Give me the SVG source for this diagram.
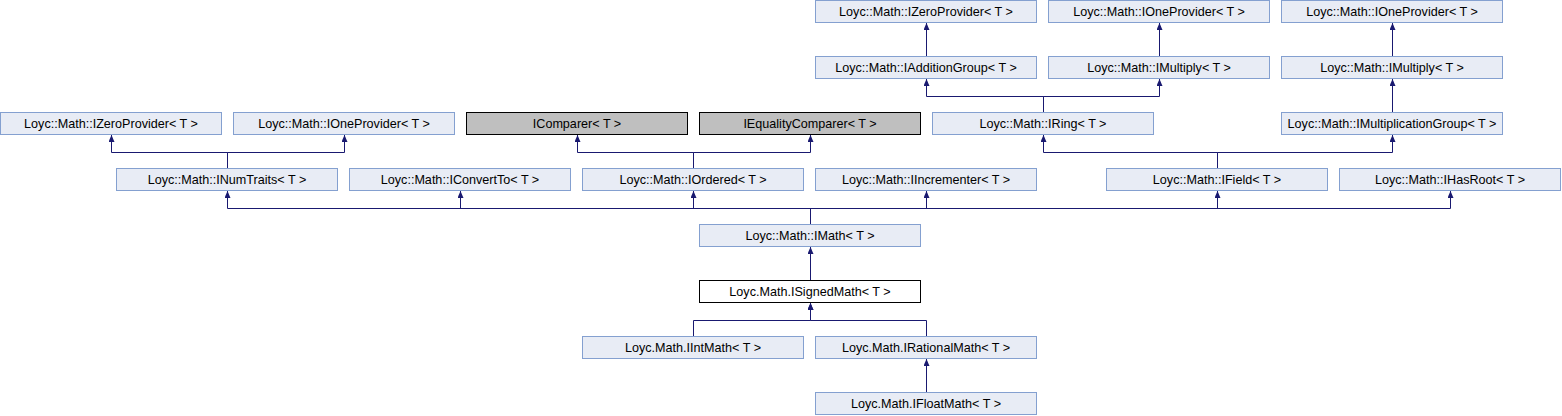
<svg xmlns="http://www.w3.org/2000/svg" width="1562" height="416" viewBox="0 0 1562 416">
<style>
.b rect{fill:#e8ecf5;stroke:#84a0d0;stroke-width:1}
.g rect{fill:#bfbfbf;stroke:#000;stroke-width:1}
.w rect{fill:#fff;stroke:#000;stroke-width:1}
text{font-family:"Liberation Sans",Arial,sans-serif;font-size:12.6px;text-anchor:middle;fill:#000}
.e path{fill:none;stroke:#191970;stroke-width:1;marker-end:url(#ah)}
</style>
<defs>
<marker id="ah" viewBox="0 0 10 10" refX="10" refY="5" markerUnits="userSpaceOnUse" markerWidth="7" markerHeight="6" orient="auto" preserveAspectRatio="none">
<path d="M0,0 L10,5 L0,10 z" fill="#191970"/>
</marker>
</defs>
<rect width="1562" height="416" fill="#fff"/>
<g class="e" id="connectors">
<path d="M926.5,56 V23"/>
<path d="M1159.5,56 V23"/>
<path d="M1392.5,56 V23"/>
<path d="M1043.5,112 V96.5 H926.5 V79"/>
<path d="M1043.5,112 V96.5 H1159.5 V79"/>
<path d="M1392.5,112 V79"/>
<path d="M227.5,168 V152.5 H111.5 V135"/>
<path d="M227.5,168 V152.5 H344.5 V135"/>
<path d="M693.5,168 V152.5 H577.5 V135"/>
<path d="M693.5,168 V152.5 H810.5 V135"/>
<path d="M1217.5,168 V152.5 H1043.5 V135"/>
<path d="M1217.5,168 V152.5 H1392.5 V135"/>
<path d="M810.5,224 V208.5 H227.5 V191"/>
<path d="M810.5,224 V208.5 H460.5 V191"/>
<path d="M810.5,224 V208.5 H693.5 V191"/>
<path d="M810.5,224 V208.5 H926.5 V191"/>
<path d="M810.5,224 V208.5 H1217.5 V191"/>
<path d="M810.5,224 V208.5 H1450.5 V191"/>
<path d="M810.5,280 V247"/>
<path d="M693.5,336 V320.5 H810.5 V303"/>
<path d="M926.5,336 V320.5 H810.5 V303"/>
<path d="M926.5,392 V359"/>
</g>
<g id="n_IZeroProvider_top" class="b"><rect x="815.5" y="0.5" width="221" height="22"/><text x="926" y="16">Loyc::Math::IZeroProvider&lt; T &gt;</text></g>
<g id="n_IOneProvider_top1" class="b"><rect x="1048.5" y="0.5" width="221" height="22"/><text x="1159" y="16">Loyc::Math::IOneProvider&lt; T &gt;</text></g>
<g id="n_IOneProvider_top2" class="b"><rect x="1281.5" y="0.5" width="221" height="22"/><text x="1392" y="16">Loyc::Math::IOneProvider&lt; T &gt;</text></g>
<g id="n_IAdditionGroup" class="b"><rect x="815.5" y="56.5" width="221" height="22"/><text x="926" y="72">Loyc::Math::IAdditionGroup&lt; T &gt;</text></g>
<g id="n_IMultiply1" class="b"><rect x="1048.5" y="56.5" width="221" height="22"/><text x="1159" y="72">Loyc::Math::IMultiply&lt; T &gt;</text></g>
<g id="n_IMultiply2" class="b"><rect x="1281.5" y="56.5" width="221" height="22"/><text x="1392" y="72">Loyc::Math::IMultiply&lt; T &gt;</text></g>
<g id="n_IZeroProvider" class="b"><rect x="0.5" y="112.5" width="221" height="22"/><text x="111" y="128">Loyc::Math::IZeroProvider&lt; T &gt;</text></g>
<g id="n_IOneProvider" class="b"><rect x="233.5" y="112.5" width="221" height="22"/><text x="344" y="128">Loyc::Math::IOneProvider&lt; T &gt;</text></g>
<g id="n_IComparer" class="g"><rect x="466.5" y="112.5" width="221" height="22"/><text x="577" y="128">IComparer&lt; T &gt;</text></g>
<g id="n_IEqualityComparer" class="g"><rect x="699.5" y="112.5" width="221" height="22"/><text x="810" y="128">IEqualityComparer&lt; T &gt;</text></g>
<g id="n_IRing" class="b"><rect x="932.5" y="112.5" width="221" height="22"/><text x="1043" y="128">Loyc::Math::IRing&lt; T &gt;</text></g>
<g id="n_IMultiplicationGroup" class="b"><rect x="1281.5" y="112.5" width="221" height="22"/><text x="1392" y="128">Loyc::Math::IMultiplicationGroup&lt; T &gt;</text></g>
<g id="n_INumTraits" class="b"><rect x="116.5" y="168.5" width="221" height="22"/><text x="227" y="184">Loyc::Math::INumTraits&lt; T &gt;</text></g>
<g id="n_IConvertTo" class="b"><rect x="349.5" y="168.5" width="221" height="22"/><text x="460" y="184">Loyc::Math::IConvertTo&lt; T &gt;</text></g>
<g id="n_IOrdered" class="b"><rect x="582.5" y="168.5" width="221" height="22"/><text x="693" y="184">Loyc::Math::IOrdered&lt; T &gt;</text></g>
<g id="n_IIncrementer" class="b"><rect x="815.5" y="168.5" width="221" height="22"/><text x="926" y="184">Loyc::Math::IIncrementer&lt; T &gt;</text></g>
<g id="n_IField" class="b"><rect x="1106.5" y="168.5" width="221" height="22"/><text x="1217" y="184">Loyc::Math::IField&lt; T &gt;</text></g>
<g id="n_IHasRoot" class="b"><rect x="1339.5" y="168.5" width="221" height="22"/><text x="1450" y="184">Loyc::Math::IHasRoot&lt; T &gt;</text></g>
<g id="n_IMath" class="b"><rect x="699.5" y="224.5" width="221" height="22"/><text x="810" y="240">Loyc::Math::IMath&lt; T &gt;</text></g>
<g id="n_ISignedMath" class="w"><rect x="699.5" y="280.5" width="221" height="22"/><text x="810" y="296">Loyc.Math.ISignedMath&lt; T &gt;</text></g>
<g id="n_IIntMath" class="b"><rect x="582.5" y="336.5" width="221" height="22"/><text x="693" y="352">Loyc.Math.IIntMath&lt; T &gt;</text></g>
<g id="n_IRationalMath" class="b"><rect x="815.5" y="336.5" width="221" height="22"/><text x="926" y="352">Loyc.Math.IRationalMath&lt; T &gt;</text></g>
<g id="n_IFloatMath" class="b"><rect x="815.5" y="392.5" width="221" height="22"/><text x="926" y="408">Loyc.Math.IFloatMath&lt; T &gt;</text></g>
</svg>
